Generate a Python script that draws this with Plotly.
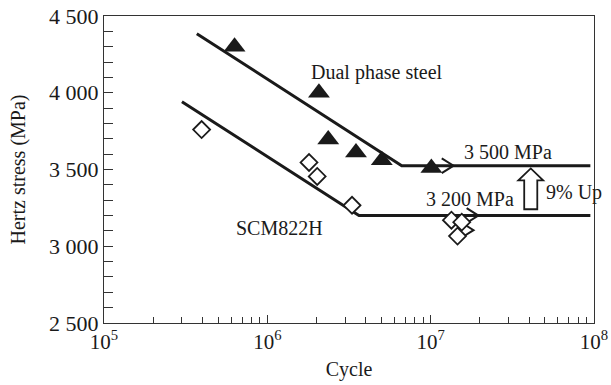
import numpy as np
import plotly.graph_objects as go

# ---- data ----
dp_cycles = [6.3e5, 2.07e6, 2.36e6, 3.49e6, 5.02e6, 1.01e7]
dp_stress = [4300, 4000, 3695, 3610, 3560, 3510]

scm_cycles = [3.96e5, 1.8e6, 2.02e6, 3.3e6, 1.34e7, 1.55e7, 1.46e7]
scm_stress = [3760, 3546, 3455, 3267, 3170, 3157, 3066]

dp_line_x = [3.7e5, 6.65e6, 9.5e7]
dp_line_y = [4385, 3525, 3525]
scm_line_x = [3.0e5, 3.64e6, 9.5e7]
scm_line_y = [3942, 3200, 3200]

# run-out arrow tips (cycle, stress)
runout_x = [1.38e7, 1.96e7, 1.83e7]
runout_y = [3525, 3200, 3105]

y_tickvals = [2500, 3000, 3500, 4000, 4500]
y_ticktext = ["2 500", "3 000", "3 500", "4 000", "4 500"]
x_tickvals = [1e5, 1e6, 1e7, 1e8]
x_ticktext = ["10<sup>5</sup>", "10<sup>6</sup>", "10<sup>7</sup>", "10<sup>8</sup>"]

FONT = "Liberation Serif, Times New Roman, serif"
fig = go.Figure()

fig.add_trace(go.Scatter(x=dp_line_x, y=dp_line_y, mode="lines",
                         line=dict(color="#1a1a1a", width=3), showlegend=False))
fig.add_trace(go.Scatter(x=scm_line_x, y=scm_line_y, mode="lines",
                         line=dict(color="#1a1a1a", width=3), showlegend=False))

# run-out chevrons
cx, cy = [], []
for tx, ty in zip(runout_x, runout_y):
    lx = 10 ** (np.log10(tx) - 0.072)
    cx += [lx, tx, lx, None]
    cy += [ty + 48, ty, ty - 48, None]
fig.add_trace(go.Scatter(x=cx, y=cy, mode="lines",
                         line=dict(color="#1a1a1a", width=2), showlegend=False))

fig.add_trace(go.Scatter(x=dp_cycles, y=dp_stress, mode="markers",
                         marker=dict(symbol="triangle-up", size=19, color="#1a1a1a"),
                         showlegend=False))
fig.add_trace(go.Scatter(x=scm_cycles, y=scm_stress, mode="markers",
                         marker=dict(symbol="diamond", size=13, color="white",
                                     line=dict(color="#1a1a1a", width=1.8)),
                         showlegend=False))

def ann(text, x, y, xanchor="center"):
    fig.add_annotation(x=np.log10(x), y=y, text=text, showarrow=False,
                       xanchor=xanchor, yanchor="middle",
                       font=dict(family=FONT, size=20, color="#1a1a1a"))

ann("Dual phase steel", 4.69e6, 4130)
ann("SCM822H", 1.18e6, 3118)
ann("3 500 MPa", 2.99e7, 3611)
ann("3 200 MPa", 1.73e7, 3306)
ann("9% Up", 4.96e7, 3351, xanchor="left")

# hollow up arrow (decoration)
ax_x = np.log10(4.1e7)
def px(lx):
    return (lx - 5) / 3
xs = [ax_x - 0.040, ax_x - 0.040, ax_x - 0.076, ax_x, ax_x + 0.076, ax_x + 0.040, ax_x + 0.040]
ys = [3241, 3429, 3429, 3507, 3429, 3429, 3241]
path = "M " + " L ".join(f"{px(a):.5f},{b}" for a, b in zip(xs, ys)) + " Z"
fig.add_shape(type="path", path=path, xref="paper", yref="y",
              line=dict(color="#1a1a1a", width=1.8), fillcolor="white")

fig.update_layout(
    width=611, height=385,
    margin=dict(l=104, r=17, t=16, b=62),
    paper_bgcolor="white", plot_bgcolor="white",
    font=dict(family=FONT, size=20, color="#1a1a1a"),
    showlegend=False,
)
fig.update_xaxes(
    type="log", range=[5, 8], tickvals=x_tickvals, ticktext=x_ticktext,
    ticks="inside", ticklen=8, tickcolor="#333", showline=True, linecolor="#333",
    linewidth=1, mirror=True, showgrid=False, zeroline=False, automargin=False,
    minor=dict(ticks="inside", ticklen=6, tickcolor="#333", dtick="D1", showgrid=False),
    title=dict(text="Cycle", font=dict(family=FONT, size=20), standoff=8),
    tickfont=dict(family=FONT, size=21),
)
fig.update_yaxes(
    range=[2500, 4500], tickvals=y_tickvals, ticktext=y_ticktext,
    ticks="inside", ticklen=9, tickcolor="#333", showline=True, linecolor="#333",
    linewidth=1, mirror=True, showgrid=False, zeroline=False, automargin=False,
    minor=dict(ticks="inside", ticklen=9, tickcolor="#333", dtick=100, showgrid=False),
    title=dict(text="Hertz stress (MPa)", font=dict(family=FONT, size=20), standoff=18),
    tickfont=dict(family=FONT, size=22),
)
fig.write_html("out.html", config={"displayModeBar": False},
               post_script="document.body.style.margin='0px';document.body.style.overflow='hidden';")
